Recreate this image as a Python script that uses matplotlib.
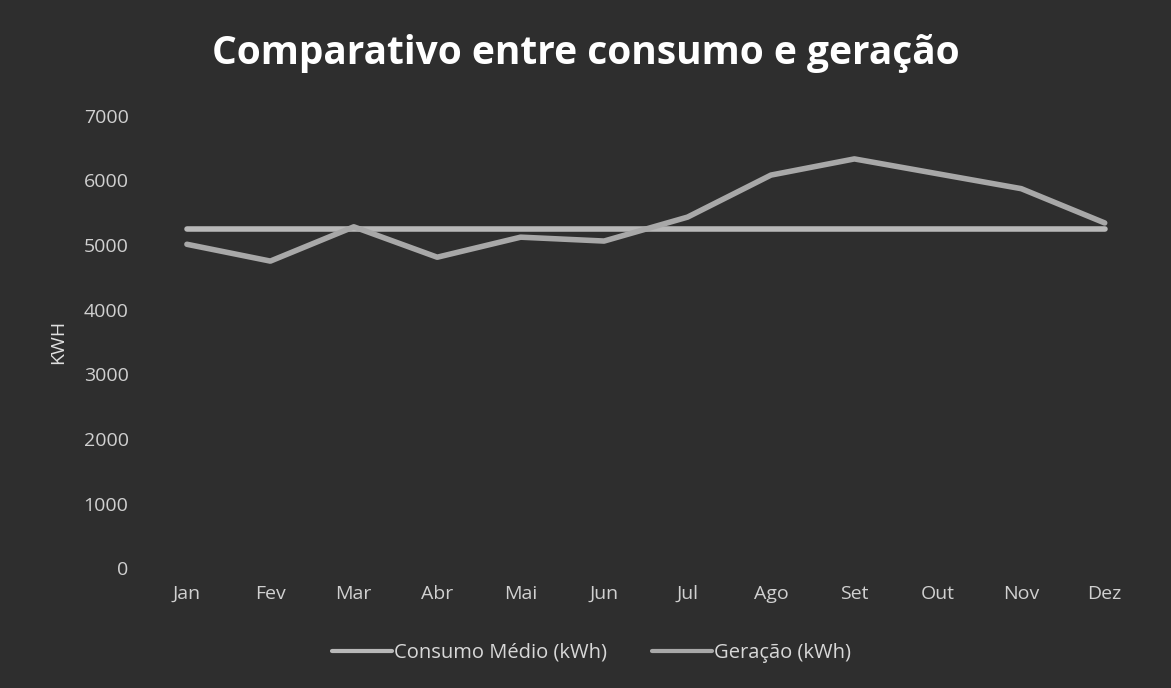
import numpy as np
import matplotlib.pyplot as plt

plt.rcParams['font.family'] = ['Open Sans', 'DejaVu Sans']

# Monthly data
meses = ['Jan', 'Fev', 'Mar', 'Abr', 'Mai', 'Jun', 'Jul', 'Ago', 'Set', 'Out', 'Nov', 'Dez']
consumo = [5250, 5250, 5250, 5250, 5250, 5250, 5250, 5250, 5250, 5250, 5250, 5250]
geracao = [5010, 4750, 5280, 4810, 5120, 5060, 5430, 6080, 6330, 6100, 5870, 5340]
yticks = [0, 1000, 2000, 3000, 4000, 5000, 6000, 7000]

bg = '#2e2e2e'
fig = plt.figure(figsize=(11.71, 6.88), dpi=100, facecolor=bg)
ax = fig.add_axes([0.124, 0.174, 0.855, 0.658], facecolor=bg)

x = np.arange(len(meses))
ax.plot(x, consumo, color='#b8b8b8', lw=4, solid_capstyle='round', label='Consumo Médio (kWh)')
ax.plot(x, geracao, color='#a8a8a8', lw=4, solid_capstyle='round', label='Geração (kWh)')

ax.set_xlim(-0.5, len(meses) - 0.5)
ax.set_ylim(0, 7000)
ax.set_xticks(x)
ax.set_xticklabels(meses)
ax.set_yticks(yticks)
ax.tick_params(colors='#d0d0d0', labelsize=14, length=0, pad=12)
for s in ax.spines.values():
    s.set_visible(False)

ax.set_ylabel('KWH', color='#e0e0e0', fontsize=14, labelpad=12)

fig.suptitle('Comparativo entre consumo e geração', color='white',
             fontsize=28, fontweight='bold', y=0.95, x=0.5)

leg = fig.legend(loc='lower center', bbox_to_anchor=(0.505, 0.01), ncol=2,
                 frameon=False, fontsize=14.5, labelcolor='#d8d8d8',
                 handlelength=3.0, handletextpad=0.1, columnspacing=2.2)
for h in leg.get_lines():
    h.set_linewidth(3)

plt.savefig('out.png', dpi=100, facecolor=bg)
